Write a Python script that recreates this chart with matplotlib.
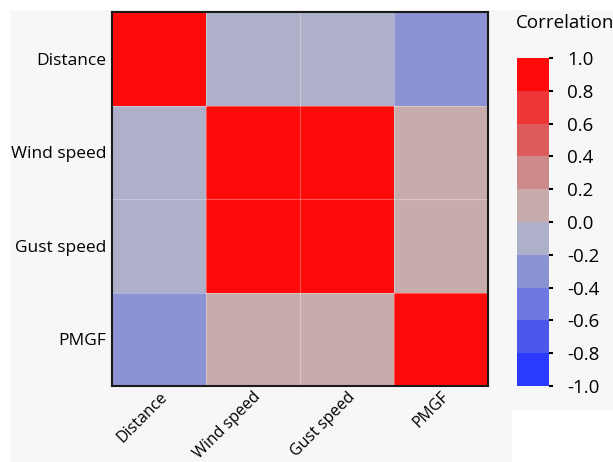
import numpy as np
import matplotlib
matplotlib.use('Agg')
import matplotlib.pyplot as plt
from matplotlib.colors import ListedColormap, BoundaryNorm
from matplotlib.patches import Rectangle

plt.rcParams['font.family'] = ['Open Sans', 'DejaVu Sans']

# variables and correlation matrix
variables = ['Distance', 'Wind speed', 'Gust speed', 'PMGF']
corr = np.array([
    [1.00, -0.10, -0.10, -0.30],
    [-0.10, 1.00, 0.95, 0.10],
    [-0.10, 0.95, 1.00, 0.10],
    [-0.30, 0.10, 0.10, 1.00],
])

# discrete colour bins, -1 to 1 in steps of 0.2
bounds = np.linspace(-1, 1, 11)
bin_colors = ['#2a3aff', '#4b58ec', '#6e78e0', '#8c93d4', '#adb0c8',
              '#c8acac', '#cc8a8a', '#dc5c5c', '#ee3636', '#ff0a0a']
cmap = ListedColormap(bin_colors)
norm = BoundaryNorm(bounds, cmap.N)

fig = plt.figure(figsize=(6.13, 4.62), dpi=100, facecolor='#f7f7f7')
# white margins on top and left
fig.patches.append(Rectangle((0, 1 - 10/462), 1, 10/462, transform=fig.transFigure,
                             facecolor='white', edgecolor='none', zorder=0))
fig.patches.append(Rectangle((0, 0), 10/613, 1, transform=fig.transFigure,
                             facecolor='white', edgecolor='none', zorder=0))
fig.patches.append(Rectangle((512/613, 0), 1, 52/462, transform=fig.transFigure,
                             facecolor='white', edgecolor='none', zorder=0))

ax = fig.add_axes([112/613, 1 - 386/462, 376/613, 374/462])
n = len(variables)
ax.pcolormesh(np.arange(n + 1), np.arange(n + 1), corr, cmap=cmap, norm=norm)
ax.set_xlim(0, n)
ax.set_ylim(n, 0)
for k in range(1, n):
    ax.axvline(k, color='white', lw=0.8, alpha=0.3)
    ax.axhline(k, color='white', lw=0.8, alpha=0.3)

ax.set_xticks(np.arange(n) + 0.5)
ax.set_yticks(np.arange(n) + 0.5)
ax.set_xticklabels(variables, rotation=45, ha='right', rotation_mode='anchor', fontsize=11.5)
ax.set_yticklabels(variables, fontsize=12.5)
ax.tick_params(axis='x', length=0, pad=2)
ax.tick_params(axis='y', length=0, pad=4)
for s in ax.spines.values():
    s.set_linewidth(1.5)
    s.set_color('#1a1a1a')

# colour bar
cax = fig.add_axes([517/613, 1 - 386/462, 32/613, 328/462])
cb = fig.colorbar(plt.cm.ScalarMappable(norm=norm, cmap=cmap), cax=cax,
                  boundaries=bounds, ticks=bounds)
cb.outline.set_visible(False)
cax.set_yticklabels(['%.1f' % b for b in bounds])
cax.tick_params(axis='y', length=3, width=1.5, pad=10, labelsize=13.5)
tick_cols = ['#2a3aff'] + bin_colors
for t, c in zip(cax.yaxis.get_major_ticks(), tick_cols):
    t.tick2line.set_color(c)
fig.text(565/613, 1 - 23/462, 'Correlation', ha='center', va='center', fontsize=13.5)

fig.savefig('out.png', dpi=100, facecolor=fig.get_facecolor())
